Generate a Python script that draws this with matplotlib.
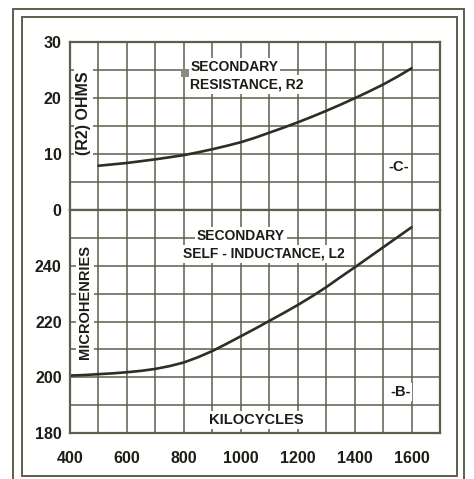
import numpy as np
import matplotlib.pyplot as plt
from matplotlib.patches import Rectangle
from matplotlib.ticker import MultipleLocator

plt.rcParams['font.family'] = 'Liberation Sans'
plt.rcParams['font.weight'] = 'bold'

INK = "#1c1d16"
GRID = "#5b5f4d"
CURVE = "#2c2f24"

# secondary resistance, R2 (ohms) against frequency (kc)
kc_r = [500, 550, 600, 650, 700, 750, 800, 850, 900, 950, 1000, 1050,
        1100, 1150, 1200, 1250, 1300, 1350, 1400, 1450, 1500, 1550, 1600]
r2_ohms = [7.9, 8.15, 8.4, 8.72, 9.05, 9.42, 9.8, 10.3, 10.85, 11.45, 12.1, 12.9,
           13.8, 14.7, 15.65, 16.65, 17.7, 18.8, 19.95, 21.15, 22.4, 23.8, 25.3]

# secondary self-inductance, L2 (microhenries)
kc_l = [400, 450, 500, 550, 600, 650, 700, 750, 800, 850, 900, 950, 1000,
        1050, 1100, 1150, 1200, 1250, 1300, 1350, 1400, 1450, 1500, 1550, 1600]
l2_uh = [200.6, 200.8, 201.1, 201.4, 201.8, 202.3, 203.0, 204.0, 205.3, 207.2,
         209.4, 212.0, 214.7, 217.4, 220.2, 223.0, 225.9, 229.0, 232.3, 235.9,
         239.4, 243.0, 246.6, 250.2, 253.8]

x_ticks = [400, 600, 800, 1000, 1200, 1400, 1600]
r_ticks = [0, 10, 20, 30]
l_ticks = [180, 200, 220, 240]

W, H = 474, 479
fig = plt.figure(figsize=(W / 100, H / 100), dpi=100)
fig.patch.set_facecolor("white")

def fx(px):
    return px / W

def fy(py):
    return 1 - py / H

left, right = 70, 440
ax_r = fig.add_axes([fx(left), fy(210), fx(right - left), fy(42) - fy(210)])
ax_l = fig.add_axes([fx(left), fy(433), fx(right - left), fy(210) - fy(433)])

for ax in (ax_r, ax_l):
    ax.set_xlim(400, 1700)
    ax.xaxis.set_major_locator(MultipleLocator(200))
    ax.xaxis.set_minor_locator(MultipleLocator(100))
    ax.grid(True, which="both", color=GRID, linewidth=1.1)
    ax.set_axisbelow(True)
    ax.tick_params(which="both", length=0, colors=INK, labelsize=11.5, pad=6)
    for s in ax.spines.values():
        s.set_color(GRID)
        s.set_linewidth(1.6)

ax_r.set_ylim(0, 30)
ax_r.set_yticks(r_ticks)
ax_r.yaxis.set_minor_locator(MultipleLocator(5))
ax_r.tick_params(axis="x", labelbottom=False)
ax_r.plot(kc_r, r2_ohms, color=CURVE, linewidth=1.9, solid_capstyle="round")

ax_l.set_ylim(180, 260)
ax_l.set_yticks(l_ticks)
ax_l.yaxis.set_minor_locator(MultipleLocator(10))
ax_l.set_xticks(x_ticks)
ax_l.tick_params(axis="x", pad=13)
ax_l.plot(kc_l, l2_uh, color=CURVE, linewidth=1.9, solid_capstyle="round")

box = dict(facecolor="white", edgecolor="none", pad=1.5)
tk = dict(color=INK, fontweight="bold", bbox=box)

ax_r.text(822, 25.6, "SECONDARY", ha="left", va="center", fontsize=10, **tk)
ax_r.text(822, 22.4, "RESISTANCE, R2", ha="left", va="center", fontsize=10, **tk)
ax_r.add_patch(Rectangle((790, 23.7), 27, 1.5, facecolor="#8a8c80", edgecolor="none", zorder=3))
ax_r.text(447, 17.3, "(R2) OHMS", rotation=90, ha="center", va="center", fontsize=11.5, **tk)
ax_r.text(1556, 7.7, "-C-", ha="center", va="center", fontsize=10.5, **tk)

ax_l.text(1000, 250.5, "SECONDARY", ha="center", va="center", fontsize=10, **tk)
ax_l.text(1080, 244.3, "SELF - INDUCTANCE, L2", ha="center", va="center", fontsize=10, **tk)
ax_l.text(452, 227, "MICROHENRIES", rotation=90, ha="center", va="center", fontsize=10.5, **tk)
ax_l.text(1560, 194.7, "-B-", ha="center", va="center", fontsize=10.5, **tk)
ax_l.text(1054, 184.8, "KILOCYCLES", ha="center", va="center", fontsize=10.5, **tk)

# double frame around the chart
for (x0, y0, x1, y1) in [(13, 9, 464, 490), (22, 17, 457, 476)]:
    fig.add_artist(Rectangle((fx(x0), fy(y1)), fx(x1 - x0), fy(y0) - fy(y1),
                             transform=fig.transFigure, fill=False,
                             edgecolor=GRID, linewidth=1.4))

fig.savefig("out.png", dpi=100)
